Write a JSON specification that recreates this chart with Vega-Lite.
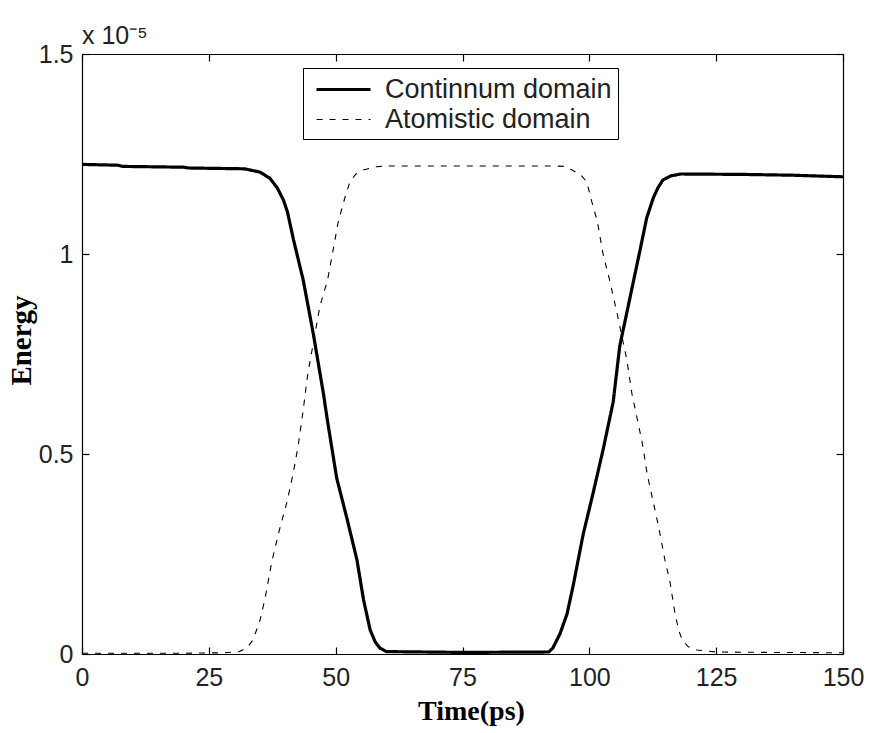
{
  "$schema": "https://vega.github.io/schema/vega-lite/v6.json",
  "autosize": {"type": "none"},
  "padding": {"left": 82, "top": 54, "right": 27, "bottom": 79},
  "width": 761,
  "height": 600,
  "background": "white",
  "config": {
    "view": {"stroke": null},
    "font": "Liberation Sans"
  },
  "title": {
    "text": "x 10⁻⁵",
    "anchor": "start",
    "frame": "group",
    "baseline": "alphabetic",
    "offset": 0,
    "dy": 27,
    "font": "Liberation Sans",
    "fontSize": 25,
    "fontWeight": "normal",
    "color": "#222"
  },
  "data": {
    "values": [
      {"t": 0, "E": 1.224, "s": "Continnum domain"},
      {"t": 7, "E": 1.222, "s": "Continnum domain"},
      {"t": 8, "E": 1.219, "s": "Continnum domain"},
      {"t": 20, "E": 1.217, "s": "Continnum domain"},
      {"t": 21, "E": 1.215, "s": "Continnum domain"},
      {"t": 32, "E": 1.213, "s": "Continnum domain"},
      {"t": 35, "E": 1.205, "s": "Continnum domain"},
      {"t": 37, "E": 1.19, "s": "Continnum domain"},
      {"t": 38.5, "E": 1.165, "s": "Continnum domain"},
      {"t": 39.7, "E": 1.135, "s": "Continnum domain"},
      {"t": 40.5, "E": 1.105, "s": "Continnum domain"},
      {"t": 41.7, "E": 1.035, "s": "Continnum domain"},
      {"t": 43.6, "E": 0.935, "s": "Continnum domain"},
      {"t": 45.6, "E": 0.8, "s": "Continnum domain"},
      {"t": 47.6, "E": 0.65, "s": "Continnum domain"},
      {"t": 48.3, "E": 0.59, "s": "Continnum domain"},
      {"t": 50.2, "E": 0.44, "s": "Continnum domain"},
      {"t": 52.2, "E": 0.34, "s": "Continnum domain"},
      {"t": 54.2, "E": 0.235, "s": "Continnum domain"},
      {"t": 55.5, "E": 0.135, "s": "Continnum domain"},
      {"t": 56.8, "E": 0.06, "s": "Continnum domain"},
      {"t": 57.8, "E": 0.03, "s": "Continnum domain"},
      {"t": 58.7, "E": 0.015, "s": "Continnum domain"},
      {"t": 60, "E": 0.006, "s": "Continnum domain"},
      {"t": 75, "E": 0.004, "s": "Continnum domain"},
      {"t": 92, "E": 0.005, "s": "Continnum domain"},
      {"t": 92.8, "E": 0.015, "s": "Continnum domain"},
      {"t": 94.2, "E": 0.05, "s": "Continnum domain"},
      {"t": 95.6, "E": 0.1, "s": "Continnum domain"},
      {"t": 96.8, "E": 0.17, "s": "Continnum domain"},
      {"t": 98.8, "E": 0.3, "s": "Continnum domain"},
      {"t": 100.7, "E": 0.4, "s": "Continnum domain"},
      {"t": 102.7, "E": 0.51, "s": "Continnum domain"},
      {"t": 104.7, "E": 0.63, "s": "Continnum domain"},
      {"t": 106, "E": 0.77, "s": "Continnum domain"},
      {"t": 108, "E": 0.89, "s": "Continnum domain"},
      {"t": 110, "E": 1.01, "s": "Continnum domain"},
      {"t": 111.3, "E": 1.09, "s": "Continnum domain"},
      {"t": 112.6, "E": 1.14, "s": "Continnum domain"},
      {"t": 113.5, "E": 1.165, "s": "Continnum domain"},
      {"t": 114.5, "E": 1.185, "s": "Continnum domain"},
      {"t": 116, "E": 1.195, "s": "Continnum domain"},
      {"t": 118, "E": 1.2, "s": "Continnum domain"},
      {"t": 130, "E": 1.199, "s": "Continnum domain"},
      {"t": 140, "E": 1.197, "s": "Continnum domain"},
      {"t": 150, "E": 1.193, "s": "Continnum domain"},
      {"t": 0, "E": 0.002, "s": "Atomistic domain"},
      {"t": 20, "E": 0.002, "s": "Atomistic domain"},
      {"t": 28, "E": 0.003, "s": "Atomistic domain"},
      {"t": 31, "E": 0.006, "s": "Atomistic domain"},
      {"t": 32.5, "E": 0.015, "s": "Atomistic domain"},
      {"t": 33.7, "E": 0.035, "s": "Atomistic domain"},
      {"t": 35.1, "E": 0.085, "s": "Atomistic domain"},
      {"t": 36.1, "E": 0.14, "s": "Atomistic domain"},
      {"t": 37.4, "E": 0.23, "s": "Atomistic domain"},
      {"t": 38.7, "E": 0.3, "s": "Atomistic domain"},
      {"t": 40.4, "E": 0.38, "s": "Atomistic domain"},
      {"t": 41.6, "E": 0.45, "s": "Atomistic domain"},
      {"t": 42.6, "E": 0.52, "s": "Atomistic domain"},
      {"t": 43.6, "E": 0.61, "s": "Atomistic domain"},
      {"t": 44.5, "E": 0.7, "s": "Atomistic domain"},
      {"t": 46.9, "E": 0.87, "s": "Atomistic domain"},
      {"t": 48.4, "E": 0.935, "s": "Atomistic domain"},
      {"t": 49.5, "E": 1.01, "s": "Atomistic domain"},
      {"t": 50.5, "E": 1.08, "s": "Atomistic domain"},
      {"t": 51.8, "E": 1.14, "s": "Atomistic domain"},
      {"t": 52.8, "E": 1.18, "s": "Atomistic domain"},
      {"t": 54, "E": 1.2, "s": "Atomistic domain"},
      {"t": 55.4, "E": 1.21, "s": "Atomistic domain"},
      {"t": 58, "E": 1.218, "s": "Atomistic domain"},
      {"t": 60, "E": 1.22, "s": "Atomistic domain"},
      {"t": 80, "E": 1.22, "s": "Atomistic domain"},
      {"t": 93, "E": 1.22, "s": "Atomistic domain"},
      {"t": 95, "E": 1.219, "s": "Atomistic domain"},
      {"t": 96.6, "E": 1.21, "s": "Atomistic domain"},
      {"t": 98.5, "E": 1.195, "s": "Atomistic domain"},
      {"t": 99.5, "E": 1.18, "s": "Atomistic domain"},
      {"t": 100.5, "E": 1.13, "s": "Atomistic domain"},
      {"t": 101.6, "E": 1.08, "s": "Atomistic domain"},
      {"t": 102.7, "E": 1.0, "s": "Atomistic domain"},
      {"t": 103.9, "E": 0.94, "s": "Atomistic domain"},
      {"t": 105.5, "E": 0.85, "s": "Atomistic domain"},
      {"t": 107.4, "E": 0.735, "s": "Atomistic domain"},
      {"t": 108.4, "E": 0.65, "s": "Atomistic domain"},
      {"t": 109.4, "E": 0.59, "s": "Atomistic domain"},
      {"t": 110.4, "E": 0.53, "s": "Atomistic domain"},
      {"t": 111.4, "E": 0.45, "s": "Atomistic domain"},
      {"t": 112.6, "E": 0.38, "s": "Atomistic domain"},
      {"t": 113.7, "E": 0.315, "s": "Atomistic domain"},
      {"t": 114.9, "E": 0.235, "s": "Atomistic domain"},
      {"t": 115.9, "E": 0.18, "s": "Atomistic domain"},
      {"t": 116.9, "E": 0.1, "s": "Atomistic domain"},
      {"t": 117.6, "E": 0.06, "s": "Atomistic domain"},
      {"t": 118.3, "E": 0.035, "s": "Atomistic domain"},
      {"t": 119.5, "E": 0.018, "s": "Atomistic domain"},
      {"t": 121.2, "E": 0.01, "s": "Atomistic domain"},
      {"t": 125, "E": 0.005, "s": "Atomistic domain"},
      {"t": 135, "E": 0.004, "s": "Atomistic domain"},
      {"t": 150, "E": 0.003, "s": "Atomistic domain"}
    ]
  },
  "layer": [
    {
      "mark": {"type": "line", "color": "black", "clip": true},
      "encoding": {
        "x": {
          "field": "t", "type": "quantitative",
          "scale": {"domain": [0, 150], "nice": false, "zero": false},
          "axis": {
            "orient": "bottom",
            "values": [0, 25, 50, 75, 100, 125, 150],
            "title": "Time(ps)",
            "grid": false,
            "domainColor": "black", "domainWidth": 1.2,
            "tickColor": "black", "tickSize": -7, "tickWidth": 1.2,
            "labelPadding": 18,
            "labelFont": "Liberation Sans", "labelFontSize": 25, "labelColor": "#222",
            "labelFlush": false, "labelOverlap": false,
            "titleFont": "Liberation Serif", "titleFontSize": 28, "titleFontWeight": "bold",
            "titleColor": "black", "titlePadding": 7, "titleX": 389
          }
        },
        "y": {
          "field": "E", "type": "quantitative",
          "scale": {"domain": [0, 1.5], "nice": false, "zero": false},
          "axis": {
            "orient": "left",
            "values": [0, 0.5, 1, 1.5],
            "format": ".1~f",
            "title": "Energy",
            "grid": false,
            "domainColor": "black", "domainWidth": 1.2,
            "tickColor": "black", "tickSize": -7, "tickWidth": 1.2,
            "labelPadding": 16,
            "labelFont": "Liberation Sans", "labelFontSize": 25, "labelColor": "#222",
            "labelFlush": false, "labelOverlap": false,
            "titleFont": "Liberation Serif", "titleFontSize": 29, "titleFontWeight": "bold",
            "titleColor": "black", "titlePadding": 2, "titleY": 286
          }
        },
        "detail": {"field": "s"},
        "strokeDash": {
          "field": "s", "type": "nominal",
          "scale": {"domain": ["Continnum domain", "Atomistic domain"], "range": [[1, 0], [6, 7]]},
          "legend": {
            "title": null,
            "orient": "none",
            "legendX": 221,
            "legendY": 14,
            "strokeColor": "black",
            "fillColor": "white",
            "padding": 6,
            "symbolType": "M-2,0H2",
            "symbolSize": 729,
            "symbolStrokeColor": "black",
            "symbolOffset": 19,
            "labelFont": "Liberation Sans",
            "labelFontSize": 27,
            "labelColor": "#222",
            "labelOffset": 26,
            "labelLimit": 400,
            "rowPadding": 2
          }
        },
        "strokeWidth": {
          "field": "s", "type": "nominal",
          "scale": {"domain": ["Continnum domain", "Atomistic domain"], "range": [3.2, 1.1]},
          "legend": null
        }
      }
    },
    {
      "mark": {"type": "rule", "opacity": 0},
      "encoding": {
        "x": {
          "datum": 0, "type": "quantitative",
          "axis": {
            "orient": "top", "values": [0, 25, 50, 75, 100, 125, 150],
            "labels": false, "title": null, "grid": false,
            "domainColor": "black", "domainWidth": 1.2,
            "tickColor": "black", "tickSize": -7, "tickWidth": 1.2
          }
        },
        "y": {
          "datum": 0, "type": "quantitative",
          "axis": {
            "orient": "right", "values": [0, 0.5, 1, 1.5],
            "labels": false, "title": null, "grid": false,
            "domainColor": "black", "domainWidth": 1.2,
            "tickColor": "black", "tickSize": -7, "tickWidth": 1.2
          }
        }
      }
    }
  ]
}
